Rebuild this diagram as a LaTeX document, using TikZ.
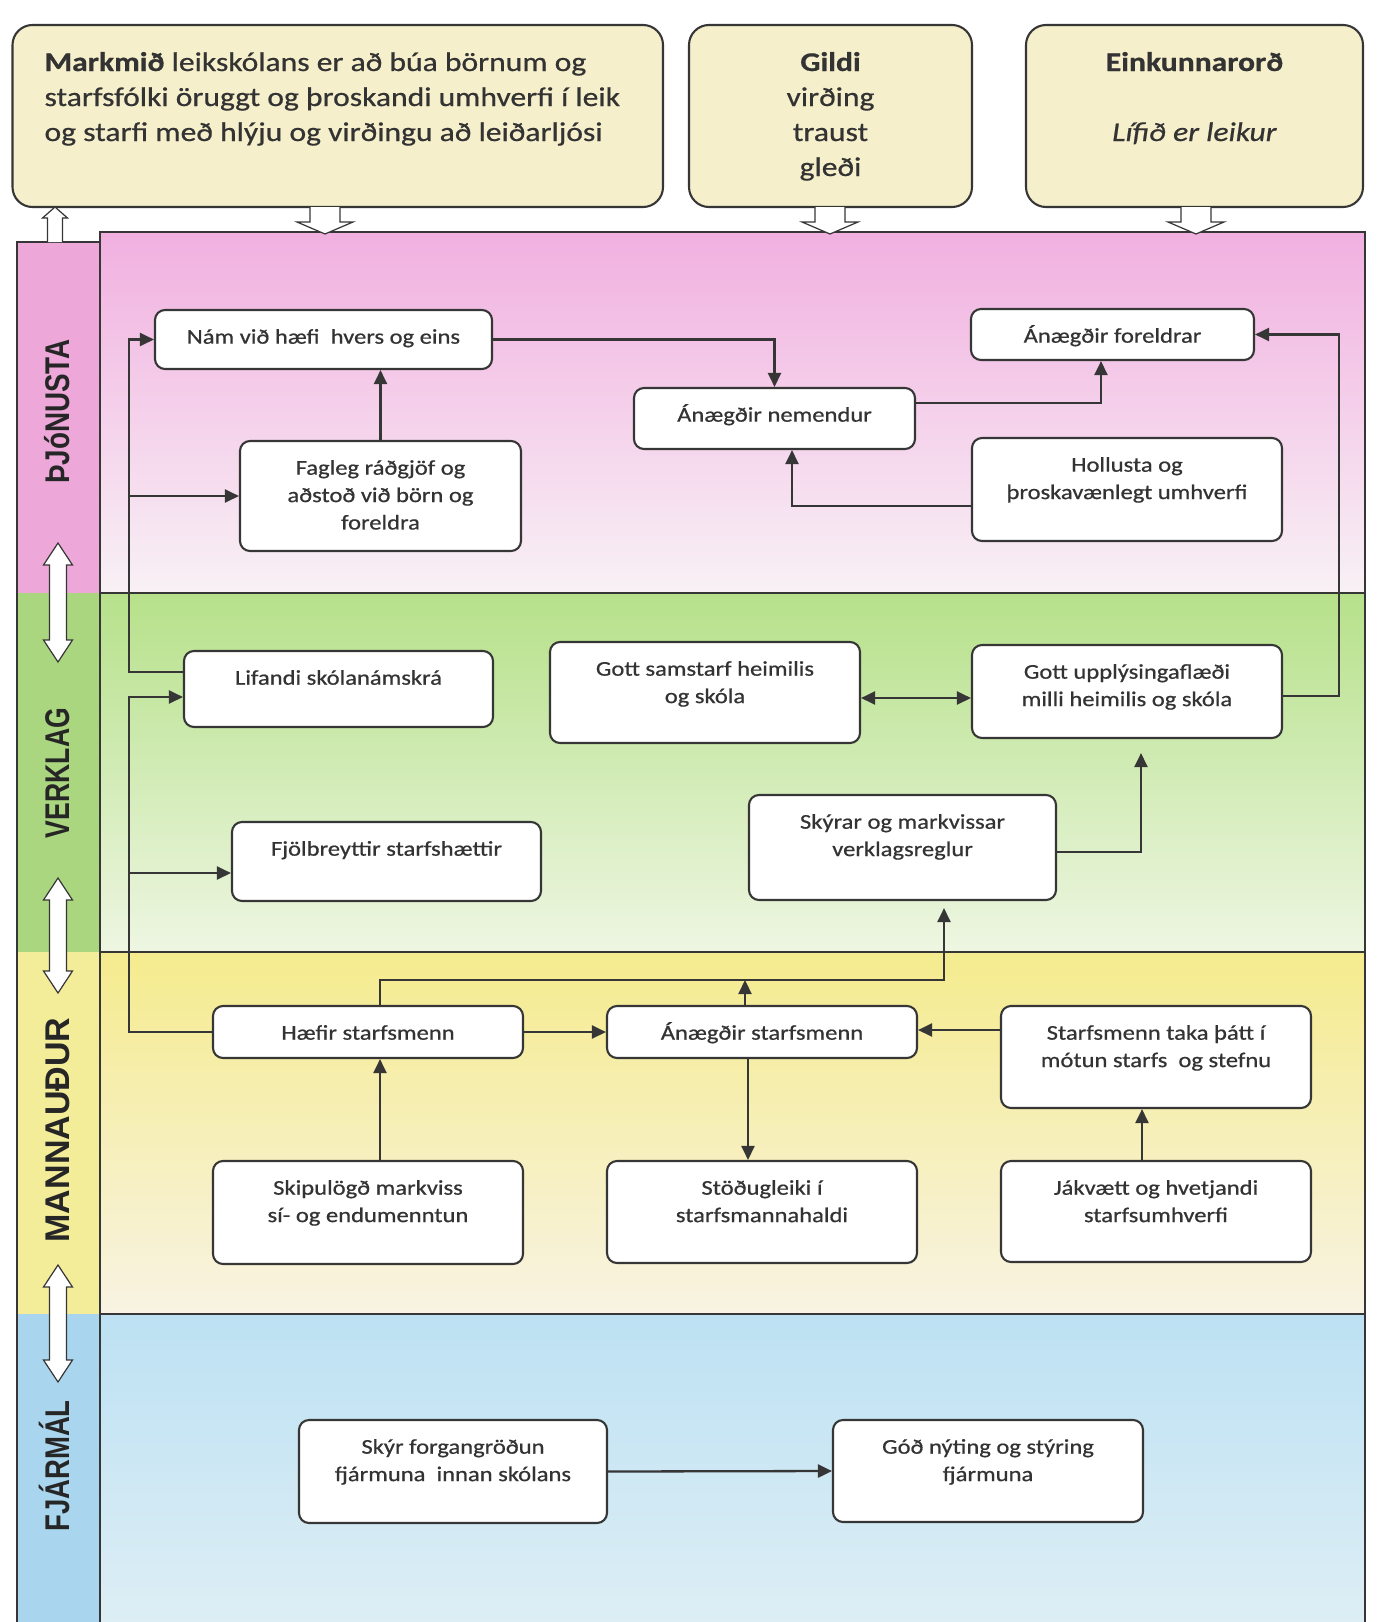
\documentclass[tikz,border=0pt]{standalone}
\usepackage{fontspec}
\setmainfont{Carlito}[FakeBold=0.6]
\newfontfamily\lblfont{Liberation Sans}
\usetikzlibrary{arrows.meta}
\definecolor{lc}{HTML}{363636}
\definecolor{topfill}{HTML}{F6EFCB}
\definecolor{pinkS}{HTML}{EDA8D9}
\definecolor{pinkT}{HTML}{F1B0E0}
\definecolor{pinkB}{HTML}{F8F1F5}
\definecolor{greenS}{HTML}{A9D67F}
\definecolor{greenT}{HTML}{B6E18A}
\definecolor{greenB}{HTML}{EEF6E2}
\definecolor{yelS}{HTML}{F3EC98}
\definecolor{yelT}{HTML}{F5EB8E}
\definecolor{yelB}{HTML}{F8F3E3}
\definecolor{bluS}{HTML}{A9D6EE}
\definecolor{bluT}{HTML}{BDE1F3}
\definecolor{bluB}{HTML}{DDEEF5}
\tikzset{
  box/.style={draw=lc, line width=2.1pt, rounded corners=10pt, fill=white, inner sep=0pt,
    font=\fontsize{21}{27.4}\selectfont, text=black!80},
  topbox/.style={draw=lc, line width=2.1pt, rounded corners=20pt, fill=topfill, inner sep=0pt,
    font=\fontsize{27}{35}\selectfont, text=black!80},
  lbl/.style={inner sep=0pt, anchor=base, rotate=90, text=black!85,
    font=\lblfont\bfseries\fontsize{27}{30}\selectfont},
  conn/.style={draw=lc, line width=2.3pt, -{Triangle[length=14pt,width=13pt]}},
  conntwo/.style={draw=lc, line width=2.3pt, {Triangle[length=14pt,width=13pt]}-{Triangle[length=14pt,width=13pt]}},
  frameline/.style={draw=lc, line width=2pt},
  hollow/.style={draw=lc, line width=1.2pt, fill=white, line join=miter},
}
\newcommand\bx[6]{%
  \node[box, minimum width={(#4-#2)*1pt}, minimum height={(#5-#3)*1pt}] (#1) at ({(#2+#4)/2},{(#3+#5)/2})
  {\scalebox{1.17}[1]{\parbox[c][\dimexpr#5pt-#3pt\relax][t]{\dimexpr(#4pt-#2pt)*100/118\relax}{\centering\vspace*{14.5pt}\strut#6}}};}
\newcommand\dblarrow[2]{%
  \filldraw[hollow] (58,#1) -- (72.5,{#1+22}) -- (66.5,{#1+22}) -- (66.5,{#2-22}) -- (72.5,{#2-22}) -- (58,#2)
   -- (43.5,{#2-22}) -- (49.5,{#2-22}) -- (49.5,{#1+22}) -- (43.5,{#1+22}) -- cycle;}
\newcommand\myDownArrow[1]{%
  \filldraw[hollow] ({#1-15},207) -- ({#1-15},222) -- ({#1-28},222) -- (#1,234) -- ({#1+28},222) -- ({#1+15},222) -- ({#1+15},207);}
\begin{document}
\begin{tikzpicture}[x=1pt,y=-1pt]
\useasboundingbox (0,0) rectangle (1383,1622);
\fill[white] (0,0) rectangle (1383,1622);
% bands
\shade[top color=pinkT, bottom color=pinkB] (100,232) rectangle (1365,593);
\shade[top color=greenT, bottom color=greenB] (100,593) rectangle (1365,952);
\shade[top color=yelT, bottom color=yelB] (100,952) rectangle (1365,1314);
\shade[top color=bluT, bottom color=bluB] (100,1314) rectangle (1365,1622);
% strip
\fill[pinkS] (17,242) rectangle (100,593);
\fill[greenS] (17,593) rectangle (100,952);
\fill[yelS] (17,952) rectangle (100,1314);
\fill[bluS] (17,1314) rectangle (100,1622);
\draw[frameline] (17,1622) -- (17,242) -- (100,242);
\draw[frameline] (100,1622) -- (100,232) -- (1365,232) -- (1365,1622);
\draw[frameline] (100,593) -- (1365,593);
\draw[frameline] (100,952) -- (1365,952);
\draw[frameline] (100,1314) -- (1365,1314);
% top boxes
\node[topbox, minimum width=650.5pt, minimum height=182pt] (goal) at (337.75,116)
  {\scalebox{1.17}[1]{\parbox[c][182pt][t]{556pt}{\raggedright\leftskip=27.4pt\vspace*{21.5pt}\strut\textbf{Markmið} leikskólans er að búa börnum og\\starfsfólki öruggt og þroskandi umhverfi í leik\\og starfi með hlýju og virðingu að leiðarljósi}}};
\node[topbox, minimum width=283pt, minimum height=182pt] (val) at (830.5,116)
  {\scalebox{1.17}[1]{\parbox[c][182pt][t]{240pt}{\centering\vspace*{21.5pt}\strut\textbf{Gildi}\\virðing\\traust\\gleði}}};
\node[topbox, minimum width=337pt, minimum height=182pt] (motto) at (1194.5,116)
  {\scalebox{1.17}[1]{\parbox[c][182pt][t]{285pt}{\centering\vspace*{21.5pt}\strut\textbf{Einkunnarorð}\\\mbox{}\\\textit{Lífið er leikur}}}};
% hollow arrows
\myDownArrow{325}
\myDownArrow{830}
\myDownArrow{1196}
\filldraw[hollow] (47.5,242) -- (47.5,218) -- (42.5,218) -- (55,207) -- (67.5,218) -- (62.5,218) -- (62.5,242);
\dblarrow{543}{662}
\dblarrow{878}{993}
\dblarrow{1265}{1382}
% labels
\node[lbl] (l1) at (69,411.5) {\scalebox{1.03}[1.27]{ÞJóNUSTA}};
\node[lbl] (l2) at (69,773) {\scalebox{0.985}[1.27]{VERKLAG}};
\node[lbl] (l3) at (69,1130) {\scalebox{1.26}[1.27]{MANNAUÐUR}};
\node[lbl] (l4) at (69,1466) {\scalebox{1.02}[1.27]{FJÁRMÁL}};
% boxes
\bx{nam}{155}{310}{492}{369}{Nám við hæfi\ \ hvers og eins}
\bx{fag}{240}{441}{521}{551}{Fagleg ráðgjöf og\\aðstoð við börn og\\foreldra}
\bx{nem}{634}{388}{915}{449}{Ánægðir nemendur}
\bx{fore}{971}{309}{1254}{360}{Ánægðir foreldrar}
\bx{hol}{972}{438}{1282}{541}{Hollusta og\\þroskavænlegt umhverfi}
\bx{lif}{184}{651}{493}{727}{Lifandi skólanámskrá}
\bx{sam}{550}{642}{860}{743}{Gott samstarf heimilis\\og skóla}
\bx{upp}{972}{645}{1282}{738}{Gott upplýsingaflæði\\milli heimilis og skóla}
\bx{fjo}{232}{822}{541}{901}{Fjölbreyttir starfshættir}
\bx{sky}{749}{795}{1056}{900}{Skýrar og markvissar\\verklagsreglur}
\bx{hae}{213}{1006}{523}{1058}{Hæfir starfsmenn}
\bx{ana}{607}{1006}{917}{1058}{Ánægðir starfsmenn}
\bx{stt}{1001}{1006}{1311}{1108}{Starfsmenn taka þátt í\\mótun starfs\ \ og stefnu}
\bx{ski}{213}{1161}{523}{1264}{Skipulögð markviss\\sí- og endumenntun}
\bx{sto}{607}{1161}{917}{1263}{Stöðugleiki í\\starfsmannahaldi}
\bx{jak}{1001}{1161}{1311}{1262}{Jákvætt og hvetjandi\\starfsumhverfi}
\bx{skr}{299}{1420}{607}{1523}{Skýr forgangröðun\\fjármuna\ \ innan skólans}
\bx{god}{833}{1420}{1143}{1522}{Góð nýting og stýring\\fjármuna}
% connectors
\draw[conn] (lif.west |- 0,672) -- (129,672) |- (nam.west);
\draw[conn] (129,0 |- fag.west) -- (fag.west);
\draw[conn] (hae.west) -- (129,0 |- hae.west) |- (lif.west |- 0,697);
\draw[conn] (129,873) -- (fjo.west |- 0,873);
\draw[conn] (fag.north) -- (fag.north |- nam.south);
\draw[conn] (nam.east) -| (nem.north);
\draw[conn] (nem.east |- 0,403) -| (1101,0 |- fore.south);
\draw[conn] (hol.west |- 0,506) -| (792,0 |- nem.south);
\draw[conn] (upp.east |- 0,696) -- (1339,696) |- (fore.east);
\draw[conntwo] (sam.east |- 0,698) -- (upp.west |- 0,698);
\draw[conn, shorten >=14pt] (sky.east |- 0,852) -| (1141,0 |- upp.south);
\draw[conn, shorten >=7pt] (380,0 |- hae.north) -- (380,980) -| (944,0 |- sky.south);
\draw[conn] (745,0 |- ana.north) -- (745,980);
\draw[conn] (hae.east) -- (ana.west);
\draw[conn] (stt.west |- 0,1030) -- (ana.east |- 0,1030);
\draw[conn] (748,0 |- ana.south) -- (748,0 |- sto.north);
\draw[conn] (380,0 |- ski.north) -- (380,0 |- hae.south);
\draw[conn] (1142,0 |- jak.north) -- (1142,0 |- stt.south);
\draw[conn] (skr.east) -- (god.west);
\end{tikzpicture}
\end{document}
